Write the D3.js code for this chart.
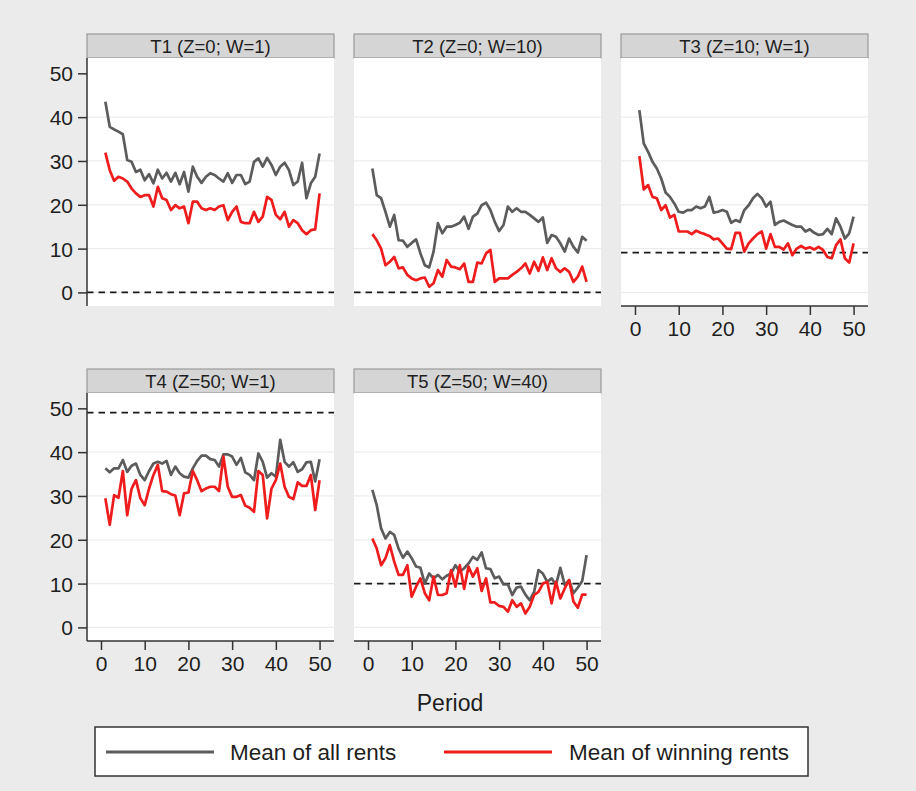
<!DOCTYPE html>
<html>
<head>
<meta charset="utf-8">
<script src="https://cdn.jsdelivr.net/npm/d3@7"></script>
<style>
  html, body { margin: 0; padding: 0; background: #ebebeb; }
  svg { display: block; }
  text { font-family: "Liberation Sans", Arial, Helvetica, sans-serif; fill: #1e1e1e; }
</style>
</head>
<body>
<svg id="chart" width="916" height="791"></svg>
<script>
// Periods 1..50 on the x axis
const periods = d3.range(1, 51);

const panelTitles = ["T1 (Z=0; W=1)", "T2 (Z=0; W=10)", "T3 (Z=10; W=1)", "T4 (Z=50; W=1)", "T5 (Z=50; W=40)"];
// Equilibrium rent shown as the dashed reference line in each treatment
const equilibrium = [0, 0, 9.09, 49, 10];

const yTicks = [0, 10, 20, 30, 40, 50];
const xTicks = [0, 10, 20, 30, 40, 50];
const gridValues = [0, 10, 20, 30, 40];
const seriesNames = ["Mean of all rents", "Mean of winning rents"];

// Mean of all rents per period
const t1All = [43.5, 37.8, 37.2, 36.7, 36.1, 30.2, 29.8, 27.5, 28.0, 25.6, 27.0, 24.9, 28.0, 26.0, 27.3, 25.3, 27.3, 24.7, 27.5, 23.0,
               28.7, 26.4, 25.0, 26.4, 27.2, 26.8, 26.0, 25.3, 27.2, 25.0, 26.8, 26.8, 24.7, 25.3, 29.8, 30.6, 28.7, 30.7, 29.1, 26.8,
               28.7, 29.6, 27.9, 24.5, 25.3, 29.6, 21.5, 24.9, 26.4, 31.7];
const t2All = [28.3, 22.2, 21.5, 18.4, 15.0, 17.7, 11.9, 11.8, 10.4, 11.3, 12.1, 8.9, 6.2, 5.7, 9.3, 15.8, 13.5, 15.0, 15.0, 15.4,
               15.9, 17.3, 14.5, 17.3, 18.0, 19.9, 20.5, 18.8, 16.1, 14.0, 15.4, 19.6, 18.4, 19.2, 18.4, 18.4, 17.7, 16.9, 16.1, 17.1,
               11.3, 13.1, 12.7, 11.2, 9.3, 12.3, 10.4, 9.1, 12.7, 11.8];
const t3All = [41.6, 34.0, 32.1, 29.8, 28.3, 26.0, 22.8, 21.8, 20.3, 18.4, 18.2, 18.8, 18.8, 19.6, 19.2, 19.6, 21.8, 18.2, 18.4, 18.8,
               18.4, 15.9, 16.5, 16.1, 18.8, 19.9, 21.5, 22.5, 21.5, 19.6, 20.7, 15.4, 16.1, 16.4, 15.9, 15.4, 15.0, 15.0, 13.9, 14.4,
               13.6, 13.1, 13.3, 14.5, 13.3, 16.9, 15.0, 12.3, 13.5, 17.3];
const t4All = [36.3, 35.4, 36.3, 36.3, 38.2, 35.5, 36.9, 37.4, 34.8, 33.6, 35.7, 37.4, 37.8, 37.4, 38.0, 34.8, 36.7, 35.2, 34.4, 34.2,
               36.3, 38.0, 39.2, 39.2, 38.4, 38.2, 36.7, 39.5, 39.5, 39.0, 37.1, 38.7, 35.4, 34.8, 33.6, 39.7, 37.8, 34.2, 35.2, 34.4,
               42.8, 37.8, 36.7, 37.7, 35.5, 36.1, 37.7, 37.8, 33.3, 38.4];
const t5All = [31.4, 27.9, 22.6, 20.3, 21.8, 21.1, 18.0, 15.9, 17.3, 15.8, 13.9, 13.6, 10.0, 12.3, 11.2, 12.0, 11.0, 11.8, 12.3, 14.2,
               12.7, 13.5, 14.6, 16.1, 15.4, 17.1, 13.5, 13.3, 11.2, 11.6, 9.8, 9.8, 7.4, 9.1, 9.3, 7.5, 6.2, 8.1, 13.1, 12.3,
               10.4, 11.2, 9.7, 13.6, 9.7, 10.8, 7.8, 9.1, 10.6, 16.5];

// Mean of winning rents per period
const t1Win = [31.9, 27.9, 25.5, 26.4, 26.0, 25.3, 23.7, 22.6, 21.8, 22.2, 22.2, 19.6, 24.1, 21.5, 21.1, 18.8, 19.9, 19.2, 19.6, 15.8,
               20.7, 20.7, 19.2, 18.8, 19.2, 18.8, 19.6, 19.9, 16.5, 18.4, 19.6, 16.1, 15.8, 15.8, 18.4, 16.1, 17.3, 21.8, 21.1, 17.7,
               16.7, 18.4, 15.0, 16.5, 15.8, 14.2, 13.3, 14.2, 14.4, 22.6];
const t2Win = [13.3, 11.9, 10.0, 6.2, 7.0, 8.1, 5.5, 5.7, 4.0, 3.2, 2.8, 3.2, 3.4, 1.3, 2.1, 5.1, 3.6, 7.4, 5.9, 5.7,
               5.3, 6.6, 2.4, 2.4, 6.8, 6.6, 8.9, 9.7, 2.4, 3.2, 3.2, 3.2, 4.0, 4.7, 5.5, 6.6, 4.3, 7.0, 4.9, 8.0,
               5.1, 7.8, 5.5, 4.7, 5.5, 4.7, 2.4, 3.6, 5.9, 2.4];
const t3Win = [31.1, 23.5, 24.5, 21.8, 21.5, 18.8, 19.9, 17.1, 17.7, 13.9, 13.9, 13.9, 13.3, 14.1, 13.6, 13.3, 12.9, 12.1, 12.3, 11.2,
               10.0, 9.9, 13.6, 13.6, 9.3, 11.2, 12.3, 13.3, 13.9, 10.0, 13.3, 10.4, 10.4, 9.8, 11.2, 8.5, 10.0, 10.6, 10.0, 10.3,
               9.8, 10.4, 9.7, 8.1, 7.8, 10.8, 12.1, 7.8, 6.8, 11.2];
const t4Win = [29.5, 23.4, 30.2, 29.6, 35.7, 25.6, 31.7, 33.6, 29.5, 27.9, 31.7, 34.8, 37.1, 31.1, 31.0, 30.4, 30.1, 25.6, 30.6, 30.8,
               35.7, 33.6, 31.1, 31.7, 32.1, 32.1, 31.1, 39.0, 32.1, 29.8, 29.8, 30.2, 27.8, 27.3, 26.4, 35.7, 34.8, 24.9, 31.7, 33.6,
               37.4, 32.1, 29.8, 29.3, 33.1, 32.3, 32.3, 34.8, 26.8, 33.6];
const t5Win = [20.3, 18.0, 14.2, 15.8, 18.8, 15.0, 12.0, 12.0, 14.2, 7.0, 9.3, 11.2, 7.8, 6.2, 11.6, 7.4, 7.4, 7.8, 13.1, 9.3,
               14.2, 8.8, 13.9, 11.6, 13.5, 8.3, 11.2, 5.7, 5.7, 4.9, 4.7, 3.6, 6.2, 4.7, 5.5, 3.2, 4.7, 7.4, 8.1, 10.0,
               10.4, 5.5, 10.4, 6.6, 8.9, 10.8, 5.9, 4.5, 7.5, 7.5];

const allRents = [t1All, t2All, t3All, t4All, t5All];
const winRents = [t1Win, t2Win, t3Win, t4Win, t5Win];

// ---- layout ----
const colLeft = [87, 354, 621];
const rowTop = [58, 393];
const plotW = 247, plotH = 248, stripH = 24;
const gridPos = [[0, 0], [1, 0], [2, 0], [0, 1], [1, 1]];
const showYAxis = [true, false, false, true, false];
const showXAxis = [false, false, true, true, true];

const colors = { all: "#5c5c5c", win: "#ee1c1c" };

const svg = d3.select("#chart");
svg.append("rect").attr("width", 916).attr("height", 791).attr("fill", "#ebebeb");

const x = d3.scaleLinear().domain([-3.2, 53.3]).range([0, plotW]);
const y = d3.scaleLinear().domain([-3.1, 53.5]).range([plotH, 0]);

const line = d3.line().x((d, i) => x(periods[i])).y(d => y(d));

panelTitles.forEach((title, p) => {
  const [c, r] = gridPos[p];
  const g = svg.append("g").attr("transform", `translate(${colLeft[c]},${rowTop[r]})`);

  // strip header
  g.append("rect")
    .attr("x", 0).attr("y", -stripH).attr("width", plotW).attr("height", stripH)
    .attr("fill", "#d5d5d5").attr("stroke", "#9a9a9a").attr("stroke-width", 1.2);
  g.append("text")
    .attr("x", plotW / 2).attr("y", -5.5)
    .attr("text-anchor", "middle")
    .attr("font-size", 18.5)
    .text(title);

  // plot region
  g.append("rect").attr("width", plotW).attr("height", plotH).attr("fill", "#ffffff");

  // horizontal grid
  g.selectAll(".grid").data(gridValues).enter().append("line")
    .attr("x1", 0).attr("x2", plotW)
    .attr("y1", d => y(d)).attr("y2", d => y(d))
    .attr("stroke", "#ececec").attr("stroke-width", 1.2);

  // equilibrium reference
  g.append("line")
    .attr("x1", 0).attr("x2", plotW)
    .attr("y1", y(equilibrium[p])).attr("y2", y(equilibrium[p]))
    .attr("stroke", "#1a1a1a").attr("stroke-width", 1.8)
    .attr("stroke-dasharray", "6.5,5");

  // series
  g.append("path").datum(allRents[p])
    .attr("d", line).attr("fill", "none")
    .attr("stroke", colors.all).attr("stroke-width", 2.7).attr("stroke-linejoin", "round");
  g.append("path").datum(winRents[p])
    .attr("d", line).attr("fill", "none")
    .attr("stroke", colors.win).attr("stroke-width", 2.7).attr("stroke-linejoin", "round");

  if (showYAxis[p]) {
    const ya = g.append("g").call(
      d3.axisLeft(y).tickValues(yTicks).tickSize(9).tickPadding(5).tickFormat(d3.format("d")));
    ya.select(".domain").attr("stroke", "#333").attr("stroke-width", 1.5).attr("d", `M0,0V${plotH}`);
    ya.selectAll(".tick line").attr("stroke", "#333").attr("stroke-width", 1.5);
    ya.selectAll(".tick text").attr("font-size", 21).attr("font-family", null).attr("fill", "#1e1e1e").attr("dy", "0.36em");
  }
  if (showXAxis[p]) {
    const xa = g.append("g").attr("transform", `translate(0,${plotH})`).call(
      d3.axisBottom(x).tickValues(xTicks).tickSize(9).tickPadding(6).tickFormat(d3.format("d")));
    xa.select(".domain").attr("stroke", "#333").attr("stroke-width", 1.5).attr("d", `M0,0H${plotW}`);
    xa.selectAll(".tick line").attr("stroke", "#333").attr("stroke-width", 1.5);
    xa.selectAll(".tick text").attr("font-size", 21).attr("font-family", null).attr("fill", "#1e1e1e");
  }
});

// x axis title
svg.append("text")
  .attr("x", 450).attr("y", 711)
  .attr("text-anchor", "middle")
  .attr("font-size", 23)
  .text("Period");

// legend
const legend = svg.append("g");
legend.append("rect")
  .attr("x", 95).attr("y", 727).attr("width", 713).attr("height", 49)
  .attr("fill", "#ffffff").attr("stroke", "#333").attr("stroke-width", 1.5);
const legendItems = [
  { name: seriesNames[0], color: colors.all, x0: 106, tx: 230 },
  { name: seriesNames[1], color: colors.win, x0: 444, tx: 569 }
];
legendItems.forEach(it => {
  legend.append("line")
    .attr("x1", it.x0).attr("x2", it.x0 + 108)
    .attr("y1", 752).attr("y2", 752)
    .attr("stroke", it.color).attr("stroke-width", 3.2);
  legend.append("text")
    .attr("x", it.tx).attr("y", 760)
    .attr("font-size", 22.5)
    .text(it.name);
});
</script>
</body>
</html>
